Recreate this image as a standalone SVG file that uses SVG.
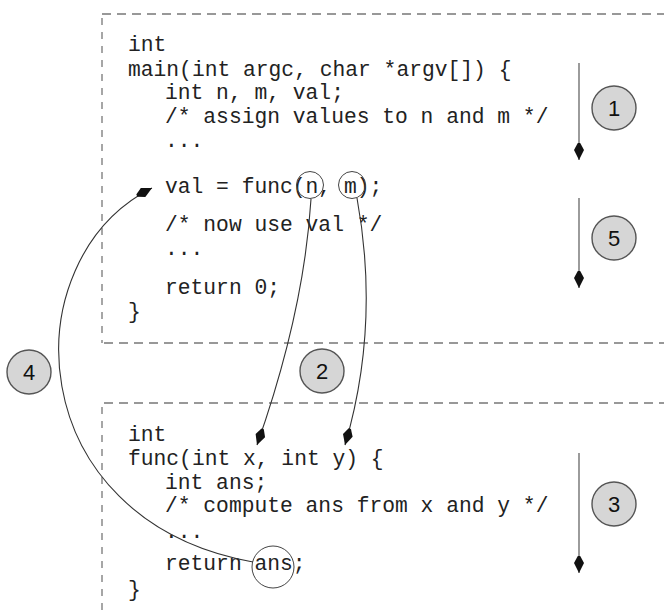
<svg xmlns="http://www.w3.org/2000/svg" width="664" height="616" viewBox="0 0 664 616">
<style>
.code{font-family:"Liberation Mono","DejaVu Sans Mono",monospace;font-size:21.3px;fill:#222;}
.box{fill:none;stroke:#777;stroke-width:1.3;}
.h{stroke-dasharray:9 6;}
.v{stroke-dasharray:7 7;}
.step{fill:#d6d6d6;stroke:#555;stroke-width:1.4;}
.num{font-family:"Liberation Sans",Arial,sans-serif;font-size:22px;fill:#111;text-anchor:middle;}
.flow{stroke:#666;stroke-width:1.3;fill:none;}
.conn{stroke:#333;stroke-width:1.1;fill:none;}
.ring{fill:none;stroke:#444;stroke-width:1;}
</style>
<defs>
<marker id="dart" markerUnits="userSpaceOnUse" viewBox="-18 -6 19 12" refX="0" refY="0" markerWidth="19" markerHeight="12" orient="auto">
<path d="M0,0 L-10,-5 L-17,-1.2 L-17,1.2 L-10,5 Z" fill="#111"/>
</marker>
</defs>

<g id="main-box">
<line class="box h" x1="102" y1="14" x2="664" y2="14"/>
<line class="box v" x1="102" y1="18" x2="102" y2="343"/>
<line class="box h" x1="104" y1="343" x2="664" y2="343"/>
<text class="code" x="128" y="51">int</text>
<text class="code" x="128" y="75.5">main(int argc, char *argv[]) {</text>
<text class="code" x="165" y="99">int n, m, val;</text>
<text class="code" x="165" y="122.5">/* assign values to n and m */</text>
<text class="code" x="165" y="147">...</text>
<text class="code" x="165" y="193">val = func(n, m);</text>
<text class="code" x="165" y="231">/* now use val */</text>
<text class="code" x="165" y="254.5">...</text>
<text class="code" x="165" y="294">return 0;</text>
<text class="code" x="128" y="318">}</text>
<circle id="ring-n" class="ring" cx="310" cy="185" r="13.5"/>
<circle id="ring-m" class="ring" cx="352" cy="185" r="13.5"/>
</g>

<g id="func-box">
<line class="box h" x1="104" y1="403" x2="664" y2="403"/>
<line class="box v" x1="102" y1="407" x2="102" y2="616"/>
<text class="code" x="128" y="441">int</text>
<text class="code" x="128" y="465">func(int x, int y) {</text>
<text class="code" x="165" y="489">int ans;</text>
<text class="code" x="165" y="512">/* compute ans from x and y */</text>
<text class="code" x="165" y="538">...</text>
<text class="code" x="165" y="570">return ans;</text>
<text class="code" x="128" y="596">}</text>
<circle id="ring-ans" class="ring" cx="273" cy="567" r="21"/>
</g>

<g id="step-1"><circle class="step" cx="614" cy="108" r="22"/><text class="num" x="614" y="116">1</text></g>
<g id="step-2"><circle class="step" cx="322" cy="371" r="22"/><text class="num" x="322" y="379">2</text></g>
<g id="step-3"><circle class="step" cx="614" cy="504" r="22"/><text class="num" x="614" y="512">3</text></g>
<g id="step-4"><circle class="step" cx="29" cy="372" r="22"/><text class="num" x="29" y="380">4</text></g>
<g id="step-5"><circle class="step" cx="614" cy="238" r="22"/><text class="num" x="614" y="246">5</text></g>

<g id="connectors">
<line class="flow" x1="579" y1="63" x2="579" y2="160" marker-end="url(#dart)"/>
<line class="flow" x1="579" y1="198" x2="579" y2="288" marker-end="url(#dart)"/>
<line class="flow" x1="579" y1="453" x2="579" y2="573" marker-end="url(#dart)"/>
<path class="conn" d="M311,199 C306,280 287,360 257,445" marker-end="url(#dart)"/>
<path class="conn" d="M357,198 C372,280 370,360 345,445" marker-end="url(#dart)"/>
<path class="conn" d="M253,562 C20,520 10,260 152,188" marker-end="url(#dart)"/>
</g>
</svg>
